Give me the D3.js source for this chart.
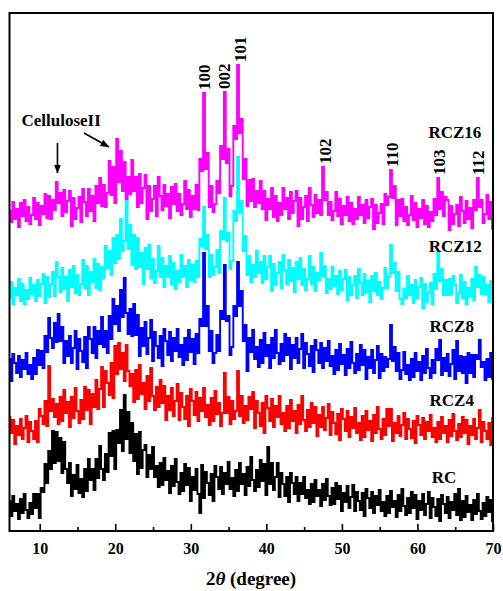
<!DOCTYPE html>
<html>
<head>
<meta charset="utf-8">
<script src="https://cdn.jsdelivr.net/npm/d3@7"></script>
<style>
  html, body { margin: 0; padding: 0; background: #fff; }
  svg { display: block; }
  text { font-family: "Times New Roman", "Liberation Serif", serif; font-weight: bold; fill: #000; }
</style>
</head>
<body>
<svg id="chart" width="503" height="591"></svg>
<script>
// 2θ grid: 6° to 70° in 0.25° steps
const thetaStart = 6;
const thetaStep = 0.25;

// Stacked XRD intensities (a.u., each pattern shifted up for clarity)
const rc = [
  30,15,35,20, 27,12,32,18, 37,21,13,28, 17,37,23,37, 13,43,39,67,
  48,80,62,100, 68,99,70,93, 58,89,62,48, 68,35,56,42, 66,38,52,34,
  62,40,72,51, 62,41,72,53, 85,62,51,77, 59,98,75,100, 62,101,88,121,
  80,136,92,119, 78,108,70,97, 57,99,63,81, 86,54,76,62, 84,54,65,44,
  68,46,73,51, 60,38,65,45, 72,49,37,58, 40,67,46,63, 30,54,41,62,
  37,18,66,33, 59,48,36,57, 30,65,54,42, 64,37,58,47, 69,42,53,35,
  61,40,68,47, 57,36,64,45, 74,51,40,61, 44,71,50,67, 36,84,47,68,
  41,54,68,34, 58,47,35,54, 29,58,48,37, 54,30,48,37, 54,33,41,27,
  47,29,51,35, 41,25,47,31, 52,35,26,43, 27,48,32,45, 20,38,29,45,
  23,34,46,20, 39,30,21,38, 15,42,33,23, 39,18,35,26, 41,20,29,15,
  35,18,40,24, 30,14,36,20, 42,25,16,33, 18,39,23,36, 12,30,21,37,
  16,27,39,13, 33,24,15,32, 10,36,27,18, 34,13,29,21, 37,16,42,11,
  30,14,35,19, 26,11,31,17, 37,20,12,28, 15,34,19,31, 10
];
const rcz4 = [
  114,98,111,87, 105,96,112,92, 103,115,89,109, 100,92,110,89, 122,115,107,130,
  105,165,120,132, 114,127,107,134, 110,141,118,129, 104,134,113,143, 120,108,131,112,
  144,121,141,107, 137,124,151,122, 142,164,124,160, 148,136,168,133, 185,157,188,162,
  178,150,186,160, 145,157,129,161, 132,166,137,148, 122,155,130,163, 135,121,144,124,
  151,128,145,111, 135,121,143,115, 130,147,111,138, 124,112,135,105, 142,130,116,139,
  110,133,120,143, 114,126,106,133, 110,140,117,128, 105,118,158,118, 134,107,130,112,
  120,160,115,135, 108,125,111,134, 122,139,103,130, 118,105,128,98, 135,123,110,132,
  104,125,114,135, 107,118,100,125, 103,131,110,120, 98,126,107,135, 111,100,121,104,
  128,108,124,95, 116,104,124,101, 113,127,96,119, 108,97,117,91, 122,112,100,120,
  94,114,103,123, 98,108,91,115, 94,120,101,110, 90,116,98,124, 102,92,112,96,
  122,105,122,90, 108,98,115,95, 106,118,92,112, 102,93,110,88, 115,106,96,113,
  92,109,100,116, 94,103,89,109, 92,114,98,105, 89,111,95,117, 100,91,107,94,
  114,98,111,87, 105,96,112,92, 103,121,89,109, 100,92,108,86, 113
];
const rcz8 = [
  172,150,177,168, 158,175,154,171, 162,178,157,166, 152,173,157,181, 166,180,163,195,
  179,213,193,183, 208,189,217,190, 204,168,190,175, 195,168,183,200, 162,192,180,169,
  194,163,204,192, 178,204,173,200, 187,214,184,200, 178,215,192,232, 207,225,200,241,
  214,253,218,197, 222,195,227,196, 216,175,203,185, 209,177,193,211, 170,199,185,173,
  195,165,202,190, 176,199,170,193, 180,202,174,186, 166,193,171,201, 179,192,167,197,
  178,212,205,278, 205,225,180,200, 168,178,196,180, 220,212,266,210, 215,176,184,225,
  215,269,225,240, 190,206,160,193, 179,201,172,184, 164,191,168,198, 175,186,163,193,
  173,201,178,167, 187,170,197,176, 193,162,186,173, 193,168,182,197, 163,188,177,165,
  185,159,191,181, 168,188,163,183, 170,190,165,175, 157,181,161,187, 167,176,156,182,
  163,189,168,158, 177,161,186,166, 181,152,174,163, 181,158,171,185, 153,177,160,174,
  164,172,206,170, 184,160,178,152, 161,179,157,166, 151,172,154,178, 160,169,151,175,
  158,182,163,153, 171,158,182,171, 191,156,173,160, 177,155,167,181, 152,190,160,175,
  158,174,148,178, 158,176,154,176, 172,191,164,169, 151,172,154,178, 152
];
const rcz12 = [
  233,249,227,243, 236,252,230,247, 227,241,232,253, 237,246,230,251, 235,247,257,228,
  254,234,247,259, 235,269,254,239, 263,242,254,230, 261,244,265,238, 256,236,247,271,
  243,265,236,259, 249,272,243,267, 241,264,253,285, 263,280,256,293, 268,296,272,312,
  280,290,330,282, 306,266,296,262, 293,264,278,247, 283,262,286,253, 272,248,260,285,
  254,273,244,265, 254,275,247,268, 242,260,249,276, 254,265,244,271, 251,266,249,270,
  254,292,285,324, 282,296,254,276, 256,264,281,258, 300,292,333,290, 298,262,270,320,
  310,374,318,330, 280,295,256,275, 249,266,254,280, 258,269,248,275, 252,264,275,240,
  267,246,258,269, 243,276,261,247, 271,250,263,239, 269,252,273,246, 262,241,252,275,
  247,264,240,258, 251,278,255,265, 238,252,242,264, 245,255,237,260, 241,252,261,231,
  254,236,246,255, 233,262,248,236, 257,239,250,229, 255,240,258,236, 249,232,243,263,
  243,255,286,258, 268,240,259,232, 227,242,233,255, 236,246,228,251, 233,244,253,223,
  247,229,239,248, 227,257,242,278, 250,262,236,251, 236,252,237,255, 246,228,238,256,
  233,249,227,243, 235,252,231,264, 244,256,237,254, 237,246,229,250, 232
];
const rcz16 = [
  320,309,329,312, 322,304,328,315, 331,310,324,307, 316,333,312,328, 306,325,317,337,
  313,335,312,331, 321,349,328,338, 315,341,319,330, 340,305,333,312, 323,334,309,342,
  329,315,342,320, 335,310,345,328, 353,325,346,324, 338,370,336,364, 328,392,349,380,
  340,369,331,354, 337,371,340,354, 324,357,328,343, 356,312,345,320, 332,345,315,354,
  335,321,346,325, 337,313,344,327, 347,320,337,316, 327,350,322,341, 314,335,322,346,
  321,372,360,438, 362,378,324,345, 319,327,350,338, 385,372,439,368, 382,335,345,405,
  392,466,398,412, 352,372,325,351, 330,352,324,340, 328,350,322,340, 311,332,322,343,
  314,335,310,328, 316,343,322,333, 312,339,318,330, 340,305,333,312, 324,335,310,343,
  326,314,336,318, 331,316,364,331, 339,316,329,311, 320,339,315,332, 307,325,316,334,
  310,328,307,322, 312,334,316,326, 308,331,313,324, 332,302,326,308, 318,327,307,337,
  326,334,361,333, 345,306,331,315, 332,310,324,306, 316,335,311,328, 304,322,313,331,
  307,325,304,319, 310,332,316,353, 322,339,315,334, 331,301,325,307, 317,326,305,334,
  320,308,330,312, 323,303,331,321, 353,324,331,308, 317,336,312,329, 302
];

const seriesNames = ["RCZ16", "RCZ12", "RCZ8", "RCZ4", "RC"];
const seriesColors = ["#ff00ff", "#00ffff", "#0000ff", "#ff0000", "#000000"];

const xTicks = [10, 20, 30, 40, 50, 60, 70];
const xMinorTicks = [15, 25, 35, 45, 55, 65];

// ZnO reflections marked above the RCZ16 pattern
const peakLabels = ["100", "002", "101", "102", "110", "103", "112"];
const peakPositions = [31.8, 34.4, 36.5, 47.8, 56.6, 62.9, 68.1];

// ---------------------------------------------------------------
const W = 503, H = 591;
const plot = { left: 9.5, right: 493, top: 13, bottom: 531 };

const x = d3.scaleLinear().domain([6, 70]).range([plot.left, plot.right]);
const y = d3.scaleLinear().domain([0, 518]).range([plot.bottom, plot.top]);

const svg = d3.select("#chart");
const defs = svg.append("defs");

defs.append("clipPath").attr("id", "plot-clip")
  .append("rect")
  .attr("x", plot.left).attr("y", plot.top)
  .attr("width", plot.right - plot.left).attr("height", plot.bottom - plot.top);

defs.append("marker")
  .attr("id", "arrow-head")
  .attr("viewBox", "0 0 9 7")
  .attr("refX", 8.5).attr("refY", 3.5)
  .attr("markerWidth", 9).attr("markerHeight", 7)
  .attr("markerUnits", "userSpaceOnUse")
  .attr("orient", "auto")
  .append("path").attr("d", "M0,0 L9,3.5 L0,7 Z").attr("fill", "#000");

const thetaAt = i => thetaStart + i * thetaStep;
// step rendering: each reading holds its level across its 0.25° bin
const line = d3.line()
  .x((d, i) => x(thetaAt(i)))
  .y(d => y(d))
  .curve(d3.curveStep);

const patterns = [rcz16, rcz12, rcz8, rcz4, rc];

// patterns: top one first so lower ones sit over it
const gLines = svg.append("g").attr("clip-path", "url(#plot-clip)");
patterns.forEach((vals, k) => {
  gLines.append("path")
    .attr("d", line(vals))
    .attr("fill", "none")
    .attr("stroke", seriesColors[k])
    .attr("stroke-width", 1.9)
    .attr("stroke-linejoin", "miter");
});

// sample labels at the right
const nameLayout = [
  { x: 61.45, y: 393 },
  { x: 61.5, y: 279 },
  { x: 61.6, y: 199 },
  { x: 61.6, y: 125 },
  { x: 61.9, y: 48 }
];
seriesNames.forEach((name, k) => {
  svg.append("text")
    .attr("x", x(nameLayout[k].x))
    .attr("y", y(nameLayout[k].y))
    .attr("font-size", 17)
    .text(name);
});

// peak indices, rotated, just above the RCZ16 maxima
peakLabels.forEach((lab, k) => {
  const p = peakPositions[k];
  let top = -Infinity;
  rcz16.forEach((v, i) => {
    if (Math.abs(thetaAt(i) - p) <= 0.4) top = Math.max(top, v);
  });
  const px = x(p) + 5.8;
  const py = y(top) - 3;
  svg.append("text")
    .attr("transform", `translate(${px},${py}) rotate(-90)`)
    .attr("font-size", 17)
    .text(lab);
});

// cellulose II annotation
svg.append("text")
  .attr("x", 21.5).attr("y", 126)
  .attr("font-size", 17)
  .text("CelluloseII");

svg.append("line")
  .attr("x1", x(12.35)).attr("y1", 143)
  .attr("x2", x(12.35)).attr("y2", 173)
  .attr("stroke", "#000").attr("stroke-width", 1.6)
  .attr("marker-end", "url(#arrow-head)");

svg.append("line")
  .attr("x1", 84).attr("y1", 133)
  .attr("x2", 109).attr("y2", 147)
  .attr("stroke", "#000").attr("stroke-width", 1.6)
  .attr("marker-end", "url(#arrow-head)");

// x axis: inward major and minor ticks
const gx = svg.append("g")
  .attr("transform", `translate(0,${plot.bottom})`)
  .call(d3.axisBottom(x).tickValues(xTicks).tickSize(-7).tickSizeOuter(0).tickFormat(d3.format("d")));
gx.select(".domain").remove();
gx.selectAll(".tick line").attr("stroke", "#000").attr("stroke-width", 1.6);
gx.selectAll(".tick text")
  .attr("y", 23).attr("dy", null)
  .attr("font-size", 16)
  .attr("font-family", "'Times New Roman', 'Liberation Serif', serif")
  .attr("font-weight", "bold")
  .attr("fill", "#000");

const gxMinor = svg.append("g")
  .attr("transform", `translate(0,${plot.bottom})`)
  .call(d3.axisBottom(x).tickValues(xMinorTicks).tickSize(-4).tickSizeOuter(0).tickFormat(""));
gxMinor.select(".domain").remove();
gxMinor.selectAll(".tick line").attr("stroke", "#000").attr("stroke-width", 1.6);

// frame
svg.append("rect")
  .attr("x", plot.left).attr("y", plot.top)
  .attr("width", plot.right - plot.left).attr("height", plot.bottom - plot.top)
  .attr("fill", "none").attr("stroke", "#000").attr("stroke-width", 2);

// axis title
const title = svg.append("text")
  .attr("x", 251).attr("y", 585)
  .attr("text-anchor", "middle")
  .attr("font-size", 19);
title.append("tspan").text("2");
title.append("tspan").attr("font-style", "italic").text("θ");
title.append("tspan").text(" (degree)");
</script>
</body>
</html>
